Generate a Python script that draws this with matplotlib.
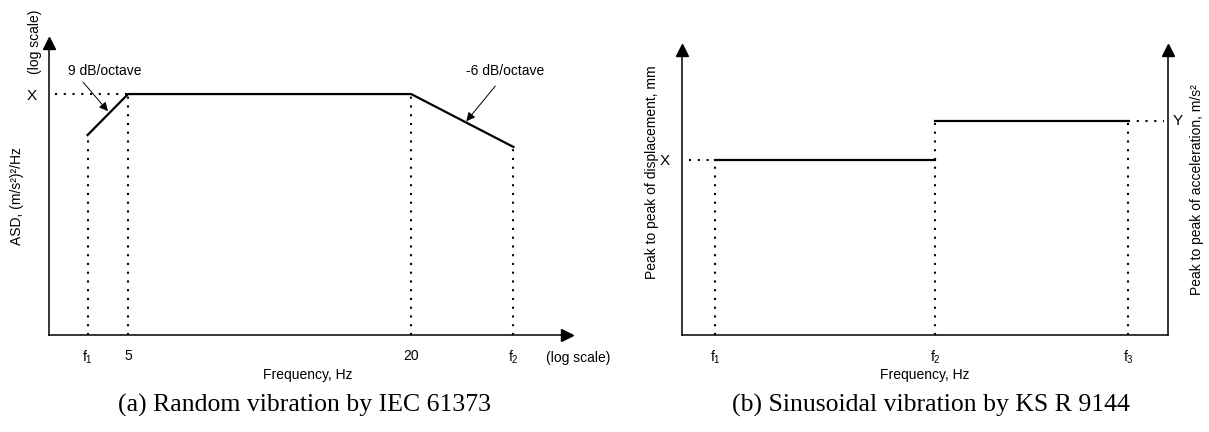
import matplotlib.pyplot as plt
from matplotlib.ticker import NullLocator

plt.rcParams['font.family'] = ['Liberation Sans', 'DejaVu Sans']
plt.rcParams['mathtext.fontset'] = 'custom'
plt.rcParams['mathtext.rm'] = 'Liberation Sans'
plt.rcParams['mathtext.it'] = 'Liberation Sans:italic'
plt.rcParams['mathtext.default'] = 'regular'

# (a) random vibration profile, log-log, schematic values
asd_freq = [4.1, 5, 20, 33]
asd_level = [0.535, 1.0, 1.0, 0.446]
asd_ticks = ['f$_1$', '5', '20', 'f$_2$']

# (b) sinusoidal profile, schematic values
sin_freq = [6.8, 52.1, 91.8]
sin_ticks = ['f$_1$', 'f$_2$', 'f$_3$']
disp_level = 61.4
acc_level = 75.1

DOT = (0, (1, 3.2))
DOT_LW = 1.5
fig = plt.figure(figsize=(12.09, 4.32), dpi=100)


def arrow_axes(ax, spines):
    for name in ['top', 'right', 'left', 'bottom']:
        ax.spines[name].set_visible(name in spines)
        ax.spines[name].set_linewidth(1.1)
    if 'left' in spines:
        ax.plot(0, 1, '^k', ms=9, transform=ax.transAxes, clip_on=False)
    if 'right' in spines:
        ax.plot(1, 1, '^k', ms=9, transform=ax.transAxes, clip_on=False)
    ax.tick_params(length=0, labelsize=10, pad=10)


# ---- panel (a)
ax1 = fig.add_axes([0.0405, 0.2245, 0.4285, 0.676])
ax1.set_xscale('log')
ax1.set_yscale('log')
ax1.set_xlim(3.394, 42.9)
ax1.set_ylim(0.0253, 2.18)
arrow_axes(ax1, ['left', 'bottom'])
ax1.plot(1, 0, '>k', ms=9, transform=ax1.transAxes, clip_on=False)

ax1.plot(asd_freq, asd_level, color='k', lw=1.6)
ymin = ax1.get_ylim()[0]
ax1.vlines(asd_freq, ymin, asd_level, colors='k', linestyles=DOT, lw=DOT_LW)
ax1.hlines(asd_level[1], 3.49, asd_freq[1], colors='k', linestyles=DOT, lw=DOT_LW)

ax1.set_xticks(asd_freq)
ax1.set_xticklabels(asd_ticks)
ax1.xaxis.set_minor_locator(NullLocator())
ax1.set_yticks([asd_level[1]])
ax1.set_yticklabels(['X'])
ax1.yaxis.set_minor_locator(NullLocator())
ax1.tick_params(axis='y', pad=9, labelsize=11)

ax1.text(1.021, -0.077, '(log scale)', transform=ax1.transAxes,
         ha='center', va='center', fontsize=10)
ax1.text(-0.027, 1.003, '(log scale)', transform=ax1.transAxes, rotation=90,
         ha='center', va='center', fontsize=10)
ax1.text(-0.062, 0.476, 'ASD, (m/s²)²/Hz', transform=ax1.transAxes,
         rotation=90, ha='center', va='center', fontsize=10)
ax1.text(0.5, -0.137, 'Frequency, Hz', transform=ax1.transAxes,
         ha='center', va='center', fontsize=10)

ax1.text(4.45, 1.42, '9 dB/octave', ha='center', va='center', fontsize=10)
ax1.annotate('', xy=(4.53, 0.77), xytext=(4.01, 1.2),
             arrowprops=dict(arrowstyle='-|>', color='k', lw=0.7,
                             mutation_scale=13, shrinkA=0, shrinkB=0))
ax1.text(31.7, 1.42, '-6 dB/octave', ha='center', va='center', fontsize=10)
ax1.annotate('', xy=(26.2, 0.66), xytext=(30.2, 1.13),
             arrowprops=dict(arrowstyle='-|>', color='k', lw=0.7,
                             mutation_scale=13, shrinkA=0, shrinkB=0))

fig.text(305 / 1209, 1 - 405 / 432, '(a) Random vibration by IEC 61373',
         family='Liberation Serif', fontsize=18.5, ha='center', va='center')

# ---- panel (b)
ax2 = fig.add_axes([0.5641, 0.2245, 0.402, 0.66])
ax2.set_xlim(0, 100)
ax2.set_ylim(0, 100)
arrow_axes(ax2, ['left', 'right', 'bottom'])

ax2.plot(sin_freq[:2], [disp_level, disp_level], color='k', lw=1.6)
ax2.plot(sin_freq[1:], [acc_level, acc_level], color='k', lw=1.6)
ax2.vlines(sin_freq, 0, [disp_level, acc_level, acc_level],
           colors='k', linestyles=DOT, lw=DOT_LW)
ax2.hlines(disp_level, 1.4, sin_freq[0], colors='k', linestyles=DOT, lw=DOT_LW)
ax2.hlines(acc_level, sin_freq[2], 99.2, colors='k', linestyles=DOT, lw=DOT_LW)

ax2.set_xticks(sin_freq)
ax2.set_xticklabels(sin_ticks)
ax2.set_yticks([disp_level])
ax2.set_yticklabels(['X'])
ax2.tick_params(axis='y', pad=9, labelsize=11)
ax2.text(1.0206, acc_level, 'Y', transform=ax2.get_yaxis_transform(),
         ha='center', va='center', fontsize=11)

ax2.text(0.5, -0.14, 'Frequency, Hz', transform=ax2.transAxes,
         ha='center', va='center', fontsize=10)
ax2.text(-0.062, 0.572, 'Peak to peak of displacement, mm', transform=ax2.transAxes,
         rotation=90, ha='center', va='center', fontsize=10)
ax2.text(1.0597, 0.509, 'Peak to peak of acceleration, m/s²', transform=ax2.transAxes,
         rotation=90, ha='center', va='center', fontsize=10)

fig.text(931 / 1209, 1 - 405 / 432, '(b) Sinusoidal vibration by KS R 9144',
         family='Liberation Serif', fontsize=18.5, ha='center', va='center')

fig.savefig('out.png', dpi=100)
